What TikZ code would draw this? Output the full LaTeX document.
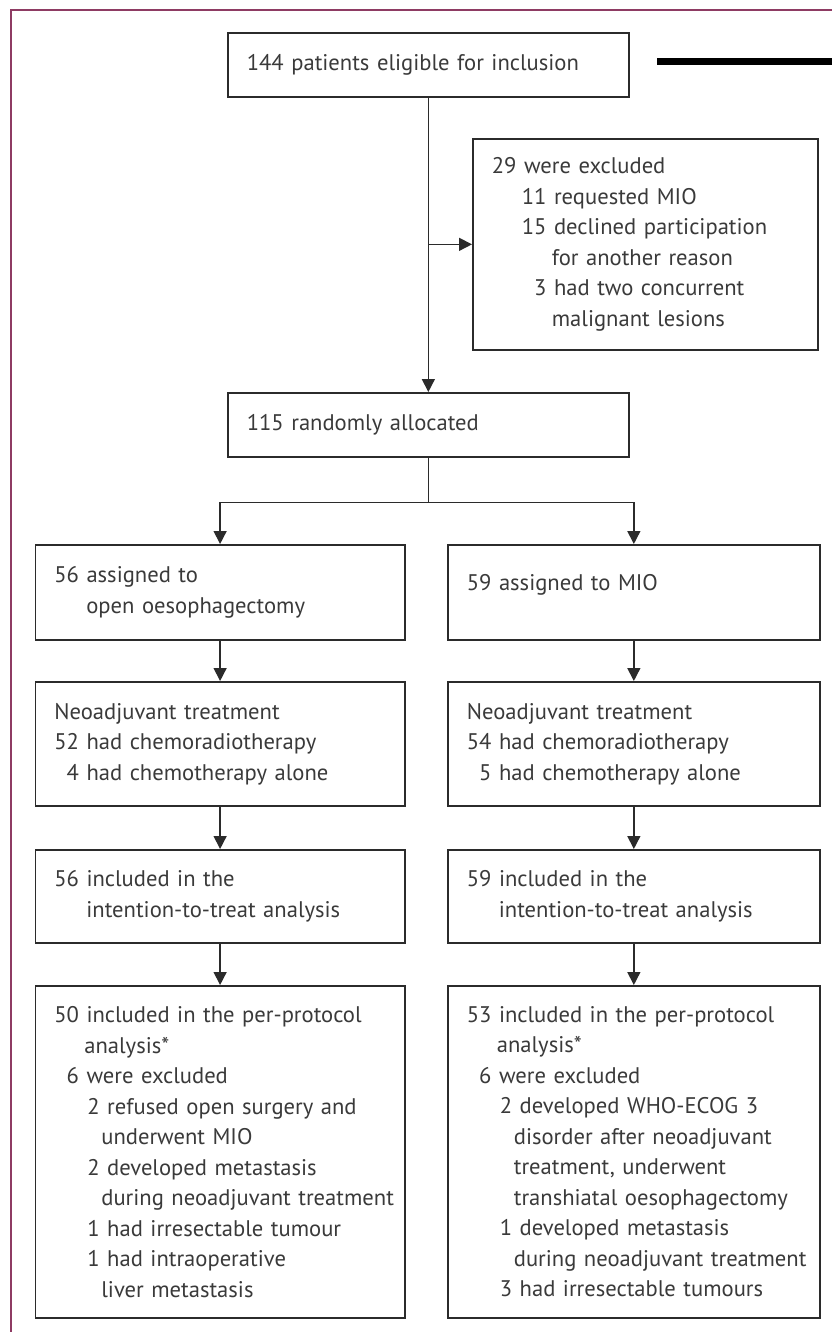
\documentclass[tikz,border=0pt]{standalone}
\usepackage{fontspec}
\setmainfont{PT Sans}[WordSpace=0.72]
\usetikzlibrary{arrows.meta}
\definecolor{framec}{HTML}{8E3B63}
\definecolor{boxc}{HTML}{2B2B2B}
\definecolor{txtc}{HTML}{3A3A3A}
\newcommand{\fline}[2]{\hspace*{#1}\mbox{#2}}
\begin{document}
\begin{tikzpicture}[x=1pt,y=-1pt,
  box/.style={draw=boxc, line width=1.7pt, anchor=north west, inner xsep=19pt, inner ysep=0pt,
    align=left, text=txtc, font=\fontsize{22.6}{30.5}\selectfont},
  lbox/.style={box, minimum width=369.5pt, text width=331.5pt},
  rbox/.style={box, minimum width=372pt, text width=334pt},
  arr/.style={draw=boxc, line width=1.5pt, -{Triangle[width=13pt,length=13pt]}},
  conn/.style={draw=boxc, line width=1.5pt}]
\useasboundingbox (0,0) rectangle (832,1332);
\fill[white] (0,0) rectangle (832,1332);
\draw[framec, line width=2pt] (11,1332) -- (11,10) -- (832,10);
\draw[black, line width=7pt] (657,62) -- (832,62);

\node[box, minimum width=401pt, minimum height=64pt, text width=363pt] (elig) at (227,32)
  {144 patients eligible for inclusion};
\node[box, minimum width=345pt, minimum height=211pt, text width=307pt] (excl) at (472,138)
  {\fline{0pt}{29 were excluded}\\
   \fline{30pt}{11 requested MIO}\\
   \fline{30pt}{15 declined participation}\\
   \fline{60pt}{for another reason}\\
   \fline{30pt}{\hphantom{0}3 had two concurrent}\\
   \fline{60pt}{malignant lesions}};
\node[box, minimum width=401pt, minimum height=64pt, text width=363pt] (rand) at (227,392)
  {115 randomly allocated};

\node[lbox, minimum height=95pt] (L1) at (34.5,544)
  {\fline{0pt}{56 assigned to}\\ \fline{32pt}{open oesophagectomy}};
\node[rbox, minimum height=95pt, text depth=20pt] (R1) at (447,544)
  {\fline{0pt}{59 assigned to MIO}};

\node[lbox, minimum height=124pt] (L2) at (34.5,681)
  {\fline{0pt}{Neoadjuvant treatment}\\
   \fline{0pt}{52 had chemoradiotherapy}\\
   \fline{0pt}{\hphantom{0}4 had chemotherapy alone}};
\node[rbox, minimum height=124pt] (R2) at (447,681)
  {\fline{0pt}{Neoadjuvant treatment}\\
   \fline{0pt}{54 had chemoradiotherapy}\\
   \fline{0pt}{\hphantom{0}5 had chemotherapy alone}};

\node[lbox, minimum height=93pt] (L3) at (34.5,849)
  {\fline{0pt}{56 included in the}\\ \fline{32pt}{intention-to-treat analysis}};
\node[rbox, minimum height=93pt] (R3) at (447,849)
  {\fline{0pt}{59 included in the}\\ \fline{32pt}{intention-to-treat analysis}};

\node[lbox, minimum height=332pt] (L4) at (34.5,985)
  {\fline{0pt}{50 included in the per-protocol}\\
   \fline{30pt}{analysis*}\\
   \fline{0pt}{\hphantom{0}6 were excluded}\\
   \fline{33pt}{2 refused open surgery and}\\
   \fline{47pt}{underwent MIO}\\
   \fline{33pt}{2 developed metastasis}\\
   \fline{47pt}{during neoadjuvant treatment}\\
   \fline{33pt}{1 had irresectable tumour}\\
   \fline{33pt}{1 had intraoperative}\\
   \fline{47pt}{liver metastasis}};
\node[rbox, minimum height=332pt] (R4) at (447,985)
  {\fline{0pt}{53 included in the per-protocol}\\
   \fline{30pt}{analysis*}\\
   \fline{0pt}{\hphantom{0}6 were excluded}\\
   \fline{33pt}{2 developed WHO-ECOG 3}\\
   \fline{47pt}{disorder after neoadjuvant}\\
   \fline{47pt}{treatment, underwent}\\
   \fline{47pt}{transhiatal oesophagectomy}\\
   \fline{33pt}{1 developed metastasis}\\
   \fline{47pt}{during neoadjuvant treatment}\\
   \fline{33pt}{3 had irresectable tumours}};

% connectors
\draw[arr] (elig.south) -- (rand.north);
\coordinate (bj) at (elig.south |- excl.west);
\draw[arr] (bj) -- (excl.west);
\path (rand.south) ++(0,45) coordinate (split);
\draw[conn] (rand.south) -- (split);
\draw[arr] (split) -| (L1.north);
\draw[arr] (split) -| (R1.north);
\draw[arr] (L1.south) -- (L2.north);
\draw[arr] (R1.south) -- (R2.north);
\draw[arr] (L2.south) -- (L3.north);
\draw[arr] (R2.south) -- (R3.north);
\draw[arr] (L3.south) -- (L4.north);
\draw[arr] (R3.south) -- (R4.north);
\end{tikzpicture}
\end{document}
